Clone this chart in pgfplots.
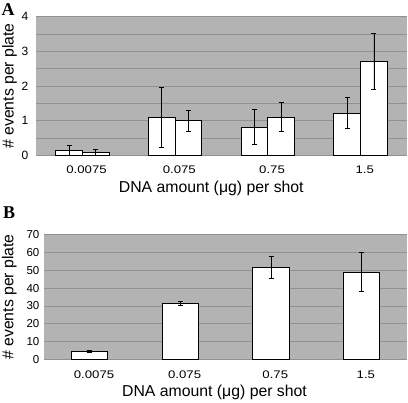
\documentclass[border=0pt]{standalone}
\usepackage{pgfplots}
\pgfplotsset{compat=1.18}
\usepackage{fontspec}
\setmainfont{Liberation Sans}
\newfontfamily\serifb{Liberation Serif}
\definecolor{bggray}{RGB}{179,179,179}
\definecolor{gridgray}{RGB}{145,145,145}
\pgfplotsset{mystyle/.style={
  scale only axis, ybar,
  xmin=-0.5, xmax=3.5, xtick={0,1,2,3}, xticklabels={0.0075,0.075,0.75,1.5},
  axis line style={draw=none}, major tick length=0pt, minor tick length=0pt,
  axis background/.style={fill=bggray},
  ymajorgrids, major grid style={gridgray, line width=0.6pt},
  minor grid style={gridgray, line width=0.6pt},
  /pgf/number format/assume math mode=true,
  xticklabel style={font=\fontsize{11}{12}\selectfont, xscale=1.2, anchor=base, inner sep=0pt, xshift=3.5pt},
  xlabel={DNA amount (μg) per shot},
  ylabel={\# events per plate},
  label style={font=\fontsize{15.8}{18}\selectfont},
  error bars/y dir=both, error bars/y explicit,
  error bars/error bar style={line width=0.9pt, black},
  error bars/error mark options={rotate=90, mark size=2.5pt, line width=0.9pt, black},
  every axis plot/.append style={fill=white, draw=black, line width=1pt},
  clip=false,
}}
\begin{document}
\begin{tikzpicture}
\path[use as bounding box] (0pt,-403pt) rectangle (408pt,0pt);
\node[anchor=base west, inner sep=0pt, font=\serifb\bfseries\fontsize{18}{18}\selectfont] at (1.5pt,-16pt) {A};
\node[anchor=base west, inner sep=0pt, font=\serifb\bfseries\fontsize{18}{18}\selectfont] at (3pt,-218.3pt) {B};

\begin{axis}[mystyle, at={(36pt,-155.3pt)}, anchor=south west,
  width=371pt, height=138.6pt, ymin=0, ymax=4,
  ytick={0,1,2,3,4}, minor ytick={0.5,1.5,2.5,3.5}, yminorgrids,
  bar width=0.2875,
  xticklabel style={yshift=-18.3pt},
  yticklabel style={font=\fontsize{12}{12}\selectfont, anchor=east, inner sep=0pt, xshift=-7.5pt},
  ylabel style={at={(axis description cs:-0.0714,0.5)}, anchor=center},
  xlabel style={at={(axis description cs:0.4725,-0.270)}, anchor=base}]
\addplot[bar shift=-0.14375] table[x=x, y=y, y error=e] {
x y e
0 0.135 0.145
1 1.10 0.87
2 0.81 0.50
3 1.22 0.44
};
\addplot[bar shift=0.14375] table[x=x, y=y, y error=e] {
x y e
0 0.09 0.09
1 1.00 0.30
2 1.10 0.42
3 2.71 0.82
};
\end{axis}

\begin{axis}[mystyle, at={(44.5pt,-359.3pt)}, anchor=south west,
  width=362.5pt, height=124.6pt, ymin=0, ymax=70,
  ytick={0,10,20,30,40,50,60,70},
  bar width=0.4,
  xticklabel style={yshift=-19pt},
  yticklabel style={font=\fontsize{11.5}{12}\selectfont, anchor=east, inner sep=0pt, xshift=-5pt},
  ylabel style={at={(axis description cs:-0.0974,0.5)}, anchor=center},
  xlabel style={at={(axis description cs:0.469,-0.297)}, anchor=base}]
\addplot[bar shift=0] table[x=x, y=y, y error=e] {
x y e
0 4.3 0.7
1 31.3 1.1
2 51.7 6.3
3 49.0 10.8
};
\end{axis}
\end{tikzpicture}
\end{document}
